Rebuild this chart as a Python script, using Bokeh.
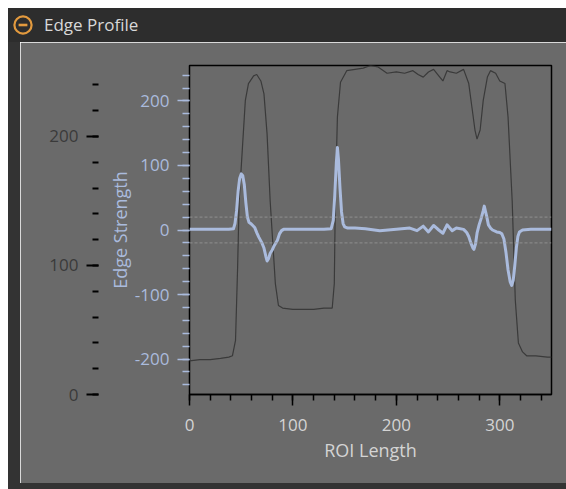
from bokeh.plotting import figure
from bokeh.models import Range1d, LinearAxis, FixedTicker, Span, Div, PrintfTickFormatter
from bokeh.layouts import column, row
from bokeh.embed import file_html
from bokeh.resources import INLINE

# ---------------- data ----------------
roi_x_intensity = [0, 10, 20, 30, 38, 41.5, 44.5, 46.5, 48, 51, 53, 54, 57, 62, 65, 69, 72, 75, 78,
                   83, 86, 90, 100, 110, 120, 130, 138, 140, 141, 143, 146, 152, 160, 168, 175,
                   182, 191, 200, 208, 216, 221, 226, 231, 236, 241, 245, 249, 252, 258, 265,
                   270, 273, 276, 278, 281, 284, 288, 291, 296, 300, 305, 308, 312, 315, 318,
                   322, 326, 335, 346, 350]
intensity = [26, 27, 27, 28, 29, 30, 42, 98, 150, 189, 215, 228, 241, 247, 248, 243, 233, 202, 150,
             86, 69, 67, 66, 66, 66, 67, 67, 86, 150, 215, 242, 251, 252, 253, 255,
             254, 249, 250, 249, 251, 248, 246, 250, 252, 247, 243, 251, 250, 249, 252,
             241, 223, 205, 198, 205, 228, 246, 251, 249, 243, 241, 215, 150, 73, 40,
             33, 30, 30, 29, 29]

roi_x_edge = [0, 10, 20, 30, 38, 42.5, 44, 45.5, 47, 48.5, 50, 51.5, 53, 54.5, 56, 57.5, 60, 63,
              65, 67, 70, 72, 74, 75, 76.5, 78, 80, 82, 85, 87, 89, 91,
              100, 110, 120, 130, 137, 139, 140.5, 142, 143, 144, 145.5, 147, 148.5, 150, 153,
              160, 170, 184, 200, 213, 220, 226, 231, 236, 241, 245, 249, 254, 258,
              265, 268, 270, 272, 274, 275, 276.5, 278, 280, 282, 284, 285, 286, 287.5, 289,
              291, 293, 297, 300, 302, 304, 306, 308, 310, 311.5, 313, 314.5, 316, 317.5, 319,
              322, 330, 340, 350]
edge_strength = [1, 1, 1, 1, 1, 2, 10, 30, 60, 80, 87, 84, 70, 42, 20, 12, 9, 4,
                 -4, -11, -20, -28, -42, -48, -44, -36, -31, -24, -16, -6, -1, 1,
                 1, 1, 1, 1, 2, 15, 55, 105, 128, 110, 65, 28, 10, 5, 3,
                 3, 2, -1, 1, 3, -1, 6, -3, 7, 0, -5, 8, -1, 3,
                 1, -4, -10, -20, -28, -30, -22, -5, 8, 18, 30, 37, 30, 20, 8,
                 3, 0, -3, -4, -6, -14, -35, -62, -80, -86, -78, -55, -28, -10, -3,
                 0, 1, 1, 1]

edge_thresholds = [20, -20]

roi_ticks = [0, 100, 200, 300]
edge_ticks = [-200, -100, 0, 100, 200]
intensity_ticks = [0, 100, 200]

roi_range = (0, 350)
edge_range = (-255, 255)
intensity_range = (0, 255)

# ---------------- styling ----------------
PANEL = "#6a6a6a"
DARK = "#2d2d2d"
STRIP = "#333333"
BLUE = "#aabbdd"
LIGHT = "#d4d4d4"
FONT = "Open Sans"

title_html = (
    '<div style="display:flex;align-items:center;height:34px;margin:0;">'
    '<svg width="22" height="22" style="margin-left:4px;flex:none">'
    '<circle cx="11" cy="11" r="8.6" fill="none" stroke="#e39a3e" stroke-width="2.2"/>'
    '<line x1="6.6" y1="11" x2="15.4" y2="11" stroke="#e39a3e" stroke-width="2.6"/></svg>'
    '<span style="margin-left:10px;color:#d8d8d8;font-family:\'Open Sans\';font-size:17px;">'
    'Edge Profile</span></div>'
)
title_bar = Div(text=title_html, width=558, height=34,
                styles={"background-color": DARK, "margin": "0", "padding": "0"})
left_strip = Div(text="", width=12, height=447,
                 styles={"background-color": STRIP, "margin": "0", "padding": "0"})
bottom_strip = Div(text="", width=546, height=6,
                   styles={"background-color": STRIP, "margin": "0", "padding": "0"})

p = figure(width=546, height=441, output_backend="svg", toolbar_location=None,
           x_range=Range1d(*roi_range), y_range=Range1d(*edge_range),
           x_axis_type=None, y_axis_type=None,
           min_border_left=169, min_border_right=15, min_border_top=23, min_border_bottom=89)
p.extra_y_ranges = {"intensity": Range1d(*intensity_range)}
p.background_fill_color = PANEL
p.border_fill_color = PANEL
p.outline_line_color = "black"
p.outline_line_width = 1.5
p.grid.visible = False

# Edge Strength axis (next to the frame)
edge_axis = LinearAxis(ticker=FixedTicker(ticks=edge_ticks, minor_ticks=list(range(-240, 241, 20))),
                       axis_label="Edge Strength", formatter=PrintfTickFormatter(format="%d"))
edge_axis.axis_line_color = None
edge_axis.major_tick_out = 12
edge_axis.major_tick_in = 0
edge_axis.minor_tick_out = 7
edge_axis.minor_tick_in = 0
edge_axis.major_tick_line_color = BLUE
edge_axis.minor_tick_line_color = BLUE
edge_axis.major_tick_line_width = 1.5
edge_axis.minor_tick_line_width = 1.5
edge_axis.major_label_standoff = 8
edge_axis.major_label_text_color = BLUE
edge_axis.major_label_text_font = FONT
edge_axis.major_label_text_font_size = "17px"
edge_axis.axis_label_standoff = 0
edge_axis.axis_label_text_color = BLUE
edge_axis.axis_label_text_font = FONT
edge_axis.axis_label_text_font_size = "18px"
edge_axis.axis_label_text_font_style = "normal"
p.add_layout(edge_axis, "left")

# invisible spacer between the two left axes (one transparent tick, empty label)
spacer_axis = LinearAxis(y_range_name="intensity", ticker=FixedTicker(ticks=[100], minor_ticks=[]))
spacer_axis.axis_line_color = None
spacer_axis.major_tick_out = 6
spacer_axis.major_tick_in = 0
spacer_axis.minor_tick_out = 0
spacer_axis.minor_tick_in = 0
spacer_axis.major_tick_line_alpha = 0
spacer_axis.major_label_overrides = {100: ""}
spacer_axis.major_label_text_alpha = 0
spacer_axis.major_label_standoff = 0
p.add_layout(spacer_axis, "left")

# Intensity axis (outer)
int_axis = LinearAxis(y_range_name="intensity", formatter=PrintfTickFormatter(format="%d"),
                      ticker=FixedTicker(ticks=intensity_ticks, minor_ticks=list(range(0, 256, 20))))
int_axis.axis_line_color = None
int_axis.major_tick_out = 12
int_axis.major_tick_in = 0
int_axis.minor_tick_out = 6
int_axis.minor_tick_in = 0
int_axis.major_tick_line_color = "black"
int_axis.minor_tick_line_color = "black"
int_axis.major_tick_line_width = 2
int_axis.minor_tick_line_width = 2
int_axis.major_label_standoff = 8
int_axis.major_label_text_color = "#3a3a3a"
int_axis.major_label_text_font = FONT
int_axis.major_label_text_font_size = "17px"
p.add_layout(int_axis, "left")

# ROI Length axis
roi_axis = LinearAxis(ticker=FixedTicker(ticks=roi_ticks, minor_ticks=list(range(0, 351, 20))),
                      axis_label="ROI Length", formatter=PrintfTickFormatter(format="%d"))
roi_axis.axis_line_color = "black"
roi_axis.axis_line_width = 1.5
roi_axis.major_tick_out = 11
roi_axis.major_tick_in = 0
roi_axis.minor_tick_out = 6
roi_axis.minor_tick_in = 0
roi_axis.major_tick_line_color = "black"
roi_axis.minor_tick_line_color = "black"
roi_axis.major_tick_line_width = 1.5
roi_axis.minor_tick_line_width = 1.5
roi_axis.major_label_standoff = 13
roi_axis.major_label_text_color = LIGHT
roi_axis.major_label_text_font = FONT
roi_axis.major_label_text_font_size = "17px"
roi_axis.axis_label_standoff = 4
roi_axis.axis_label_text_color = LIGHT
roi_axis.axis_label_text_font = FONT
roi_axis.axis_label_text_font_size = "18px"
roi_axis.axis_label_text_font_style = "normal"
p.add_layout(roi_axis, "below")

for t in edge_thresholds:
    p.add_layout(Span(location=t, dimension="width", line_color="#9a9a9a",
                      line_width=1, line_dash="3 2", line_alpha=0.8))

p.line(roi_x_intensity, intensity, y_range_name="intensity",
       line_color="#3a3a3a", line_width=1.2)
p.line(roi_x_edge, edge_strength, line_color=BLUE, line_width=3, line_join="round")

layout = column(title_bar,
                row(left_strip, column(p, bottom_strip, spacing=0), spacing=0),
                spacing=0, margin=(8, 0, 0, 8))

open("out.html", "w").write(file_html(layout, INLINE))
